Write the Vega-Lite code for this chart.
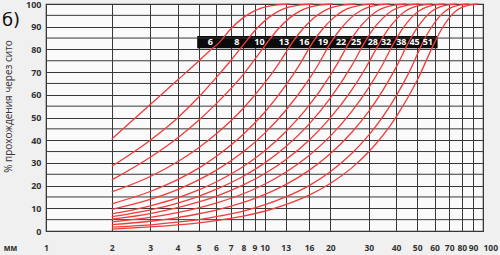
{
  "$schema": "https://vega.github.io/schema/vega-lite/v6.json",
  "width": 437,
  "height": 227,
  "autosize": {"type": "none"},
  "padding": {"left": 46, "top": 4, "right": 17, "bottom": 24},
  "background": "#f0f0f0",
  "config": {"view": {"fill": "#fafafa", "stroke": "#333333", "strokeWidth": 1.2}, "axis": {"labelOverlap": false}, "axisY": {"labelOverlap": false, "tickCount": 11}},
  "title": {"text": "б)", "anchor": "start", "frame": "group", "offset": 0, "dx": -44, "dy": 30, "fontSize": 18, "fontWeight": "normal", "font": "DejaVu Sans", "color": "#111"},
  "datasets": {
    "hgrid": [{"g": 5}, {"g": 15}, {"g": 25}, {"g": 35}, {"g": 45}, {"g": 55}, {"g": 65}, {"g": 75}, {"g": 85}, {"g": 95}],
    "band": [{"x1": 4.92, "x2": 62, "y1": 80.5, "y2": 85.9}],
    "labels": [
      {"lab": "6", "x": 5.65}, {"lab": "8", "x": 7.48}, {"lab": "10", "x": 9.48}, {"lab": "13", "x": 12.27},
      {"lab": "16", "x": 15.2}, {"lab": "19", "x": 18.5}, {"lab": "22", "x": 22.4}, {"lab": "25", "x": 26.3},
      {"lab": "28", "x": 31.3}, {"lab": "32", "x": 36.0}, {"lab": "38", "x": 42.3}, {"lab": "45", "x": 48.6}, {"lab": "51", "x": 55.9}
    ],
    "curves": [
      {"c": "6", "x": 2, "y": 40.5}, {"c": "6", "x": 3, "y": 55.7}, {"c": "6", "x": 4, "y": 66.5}, {"c": "6", "x": 5, "y": 74.9}, {"c": "6", "x": 5.6, "y": 79.3}, {"c": "6", "x": 6.2, "y": 83}, {"c": "6", "x": 7, "y": 89}, {"c": "6", "x": 8, "y": 94}, {"c": "6", "x": 9, "y": 97}, {"c": "6", "x": 10, "y": 98.6}, {"c": "6", "x": 11.2, "y": 99.5}, {"c": "6", "x": 13, "y": 100},
      {"c": "8", "x": 2, "y": 28.5}, {"c": "8", "x": 3, "y": 40}, {"c": "8", "x": 4, "y": 49.8}, {"c": "8", "x": 5, "y": 59}, {"c": "8", "x": 6, "y": 67.5}, {"c": "8", "x": 7, "y": 75}, {"c": "8", "x": 8.15, "y": 83}, {"c": "8", "x": 9.17, "y": 89}, {"c": "8", "x": 10.44, "y": 94}, {"c": "8", "x": 11.67, "y": 97}, {"c": "8", "x": 12.93, "y": 98.6}, {"c": "8", "x": 14.38, "y": 99.5}, {"c": "8", "x": 16.7, "y": 100},
      {"c": "10", "x": 2, "y": 22.5}, {"c": "10", "x": 3, "y": 32.5}, {"c": "10", "x": 4, "y": 41}, {"c": "10", "x": 5, "y": 48.8}, {"c": "10", "x": 6, "y": 56}, {"c": "10", "x": 8, "y": 69}, {"c": "10", "x": 9, "y": 75.5}, {"c": "10", "x": 10.3, "y": 83}, {"c": "10", "x": 11.55, "y": 89}, {"c": "10", "x": 13.08, "y": 94}, {"c": "10", "x": 14.58, "y": 97}, {"c": "10", "x": 16.1, "y": 98.6}, {"c": "10", "x": 17.86, "y": 99.5}, {"c": "10", "x": 20.6, "y": 100},
      {"c": "13", "x": 2, "y": 17.2}, {"c": "13", "x": 3, "y": 24.0}, {"c": "13", "x": 4, "y": 30.5}, {"c": "13", "x": 5, "y": 36.7}, {"c": "13", "x": 6, "y": 42.7}, {"c": "13", "x": 8, "y": 54.1}, {"c": "13", "x": 10, "y": 65.1}, {"c": "13", "x": 11.5, "y": 73.1}, {"c": "13", "x": 13.4, "y": 83}, {"c": "13", "x": 14.97, "y": 89}, {"c": "13", "x": 16.9, "y": 94}, {"c": "13", "x": 18.75, "y": 97}, {"c": "13", "x": 20.6, "y": 98.6}, {"c": "13", "x": 22.8, "y": 99.5}, {"c": "13", "x": 26.2, "y": 100},
      {"c": "16", "x": 2, "y": 12}, {"c": "16", "x": 3, "y": 17.4}, {"c": "16", "x": 4, "y": 22.6}, {"c": "16", "x": 5, "y": 27.7}, {"c": "16", "x": 6, "y": 32.8}, {"c": "16", "x": 8, "y": 42.6}, {"c": "16", "x": 10, "y": 52.2}, {"c": "16", "x": 12.5, "y": 64.1}, {"c": "16", "x": 14.5, "y": 73.4}, {"c": "16", "x": 16.6, "y": 83}, {"c": "16", "x": 18.46, "y": 89}, {"c": "16", "x": 20.75, "y": 94}, {"c": "16", "x": 22.9, "y": 97}, {"c": "16", "x": 25.2, "y": 98.6}, {"c": "16", "x": 27.7, "y": 99.5}, {"c": "16", "x": 31.7, "y": 100},
      {"c": "19", "x": 2, "y": 9.5}, {"c": "19", "x": 3, "y": 13.9}, {"c": "19", "x": 4, "y": 18.2}, {"c": "19", "x": 5, "y": 22.5}, {"c": "19", "x": 6, "y": 26.7}, {"c": "19", "x": 8, "y": 34.9}, {"c": "19", "x": 10, "y": 43.0}, {"c": "19", "x": 12.5, "y": 53.1}, {"c": "19", "x": 16, "y": 66.9}, {"c": "19", "x": 17.5, "y": 72.8}, {"c": "19", "x": 20.1, "y": 83}, {"c": "19", "x": 22.3, "y": 89}, {"c": "19", "x": 24.9, "y": 94}, {"c": "19", "x": 27.5, "y": 97}, {"c": "19", "x": 30, "y": 98.6}, {"c": "19", "x": 33, "y": 99.5}, {"c": "19", "x": 37.5, "y": 100},
      {"c": "22", "x": 2, "y": 7.5}, {"c": "22", "x": 3, "y": 11.1}, {"c": "22", "x": 4, "y": 14.6}, {"c": "22", "x": 5, "y": 18.1}, {"c": "22", "x": 6, "y": 21.6}, {"c": "22", "x": 8, "y": 28.4}, {"c": "22", "x": 10, "y": 35.2}, {"c": "22", "x": 12.5, "y": 43.7}, {"c": "22", "x": 16, "y": 55.3}, {"c": "22", "x": 20, "y": 68.6}, {"c": "22", "x": 21.5, "y": 73.5}, {"c": "22", "x": 24.4, "y": 83}, {"c": "22", "x": 26.9, "y": 89}, {"c": "22", "x": 30, "y": 94}, {"c": "22", "x": 32.9, "y": 97}, {"c": "22", "x": 35.9, "y": 98.6}, {"c": "22", "x": 39.3, "y": 99.5}, {"c": "22", "x": 44.5, "y": 100},
      {"c": "25", "x": 2, "y": 6.3}, {"c": "25", "x": 3, "y": 9.3}, {"c": "25", "x": 4, "y": 12.3}, {"c": "25", "x": 5, "y": 15.3}, {"c": "25", "x": 6, "y": 18.3}, {"c": "25", "x": 8, "y": 24.1}, {"c": "25", "x": 10, "y": 29.9}, {"c": "25", "x": 12.5, "y": 37.1}, {"c": "25", "x": 16, "y": 47.1}, {"c": "25", "x": 20, "y": 58.5}, {"c": "25", "x": 25, "y": 72.6}, {"c": "25", "x": 28.7, "y": 83}, {"c": "25", "x": 31.5, "y": 89}, {"c": "25", "x": 35, "y": 94}, {"c": "25", "x": 38.3, "y": 97}, {"c": "25", "x": 41.6, "y": 98.6}, {"c": "25", "x": 45.3, "y": 99.5}, {"c": "25", "x": 51.1, "y": 100},
      {"c": "28", "x": 2, "y": 5.2}, {"c": "28", "x": 3, "y": 7.7}, {"c": "28", "x": 4, "y": 10.3}, {"c": "28", "x": 5, "y": 12.8}, {"c": "28", "x": 6, "y": 15.3}, {"c": "28", "x": 8, "y": 20.3}, {"c": "28", "x": 10, "y": 25.2}, {"c": "28", "x": 12.5, "y": 31.4}, {"c": "28", "x": 16, "y": 40.0}, {"c": "28", "x": 20, "y": 49.8}, {"c": "28", "x": 25, "y": 62.0}, {"c": "28", "x": 29, "y": 71.7}, {"c": "28", "x": 33.7, "y": 83}, {"c": "28", "x": 36.9, "y": 89}, {"c": "28", "x": 40.8, "y": 94}, {"c": "28", "x": 44.4, "y": 97}, {"c": "28", "x": 48.1, "y": 98.6}, {"c": "28", "x": 52.3, "y": 99.5}, {"c": "28", "x": 58.6, "y": 100},
      {"c": "32", "x": 2, "y": 4.0}, {"c": "32", "x": 3, "y": 6.0}, {"c": "32", "x": 4, "y": 8.1}, {"c": "32", "x": 5, "y": 10.2}, {"c": "32", "x": 6, "y": 12.3}, {"c": "32", "x": 8, "y": 16.4}, {"c": "32", "x": 10, "y": 20.6}, {"c": "32", "x": 12.5, "y": 25.9}, {"c": "32", "x": 16, "y": 33.3}, {"c": "32", "x": 20, "y": 41.8}, {"c": "32", "x": 25, "y": 52.5}, {"c": "32", "x": 30, "y": 63.2}, {"c": "32", "x": 34, "y": 71.8}, {"c": "32", "x": 39.2, "y": 83}, {"c": "32", "x": 42.8, "y": 89}, {"c": "32", "x": 47, "y": 94}, {"c": "32", "x": 51.1, "y": 97}, {"c": "32", "x": 55.1, "y": 98.6}, {"c": "32", "x": 59.6, "y": 99.5}, {"c": "32", "x": 66.6, "y": 100},
      {"c": "38", "x": 2, "y": 2.8}, {"c": "38", "x": 3, "y": 4.3}, {"c": "38", "x": 4, "y": 5.9}, {"c": "38", "x": 5, "y": 7.6}, {"c": "38", "x": 6, "y": 9.2}, {"c": "38", "x": 8, "y": 12.6}, {"c": "38", "x": 10, "y": 16.0}, {"c": "38", "x": 12.5, "y": 20.4}, {"c": "38", "x": 16, "y": 26.7}, {"c": "38", "x": 20, "y": 34.0}, {"c": "38", "x": 25, "y": 43.3}, {"c": "38", "x": 30, "y": 52.7}, {"c": "38", "x": 40, "y": 72.1}, {"c": "38", "x": 45.6, "y": 83}, {"c": "38", "x": 49.6, "y": 89}, {"c": "38", "x": 54.3, "y": 94}, {"c": "38", "x": 58.7, "y": 97}, {"c": "38", "x": 63.2, "y": 98.6}, {"c": "38", "x": 68.1, "y": 99.5}, {"c": "38", "x": 75.7, "y": 100},
      {"c": "45", "x": 2, "y": 1.7}, {"c": "45", "x": 3, "y": 2.7}, {"c": "45", "x": 4, "y": 3.9}, {"c": "45", "x": 5, "y": 5.0}, {"c": "45", "x": 6, "y": 6.3}, {"c": "45", "x": 8, "y": 8.8}, {"c": "45", "x": 10, "y": 11.5}, {"c": "45", "x": 12.5, "y": 15.0}, {"c": "45", "x": 16, "y": 20.0}, {"c": "45", "x": 20, "y": 26.1}, {"c": "45", "x": 25, "y": 34.0}, {"c": "45", "x": 30, "y": 42.2}, {"c": "45", "x": 40, "y": 59.4}, {"c": "45", "x": 46, "y": 70.1}, {"c": "45", "x": 53, "y": 83}, {"c": "45", "x": 57.4, "y": 89}, {"c": "45", "x": 62.6, "y": 94}, {"c": "45", "x": 67.5, "y": 97}, {"c": "45", "x": 72.3, "y": 98.6}, {"c": "45", "x": 77.8, "y": 99.5}, {"c": "45", "x": 86, "y": 100},
      {"c": "51", "x": 2, "y": 0.8}, {"c": "51", "x": 3, "y": 1.8}, {"c": "51", "x": 4, "y": 2.7}, {"c": "51", "x": 5, "y": 3.6}, {"c": "51", "x": 6, "y": 4.6}, {"c": "51", "x": 8, "y": 6.6}, {"c": "51", "x": 10, "y": 8.7}, {"c": "51", "x": 12.5, "y": 11.6}, {"c": "51", "x": 16, "y": 15.8}, {"c": "51", "x": 20, "y": 20.9}, {"c": "51", "x": 25, "y": 27.7}, {"c": "51", "x": 30, "y": 34.9}, {"c": "51", "x": 40, "y": 50.2}, {"c": "51", "x": 50, "y": 66.4}, {"c": "51", "x": 60, "y": 83}, {"c": "51", "x": 64.7, "y": 89}, {"c": "51", "x": 70.2, "y": 94}, {"c": "51", "x": 75.4, "y": 97}, {"c": "51", "x": 80.5, "y": 98.6}, {"c": "51", "x": 86.1, "y": 99.5}, {"c": "51", "x": 95, "y": 100}
    ]
  },
  "layer": [
    {
      "data": {"name": "band"},
      "mark": {"type": "rect", "color": "#0b0b0b"},
      "encoding": {
        "x": {"field": "x1", "type": "quantitative", "scale": {"type": "log", "domain": [1, 100], "nice": false},
          "axis": {"values": [1, 2, 3, 4, 5, 6, 7, 8, 9, 10, 12.5, 16, 20, 30, 40, 50, 60, 70, 80, 90, 100],
            "labelExpr": "datum.value == 12.5 ? '13' : format(datum.value, 'd')",
            "grid": true, "gridColor": "#383838", "gridWidth": 1, "ticks": false, "domain": false,
            "labelFont": "Open Sans", "labelFontWeight": "bold", "labelFontSize": 8.5, "labelColor": "#333",
            "labelAlign": {"condition": {"test": "datum.value == 100", "value": "left"}, "value": "center"},
            "labelPadding": 12, "labelOverlap": false, "labelBound": false, "labelFlush": false,
            "title": "мм", "titleX": -36, "titleY": 17, "titleAlign": "center", "titleBaseline": "middle",
            "titleFont": "Open Sans", "titleFontSize": 8, "titleFontWeight": "bold", "titleColor": "#333"}},
        "x2": {"field": "x2"},
        "y": {"field": "y1", "type": "quantitative", "scale": {"domain": [0, 100], "nice": false}},
        "y2": {"field": "y2"}
      }
    },
    {
      "data": {"name": "hgrid"},
      "mark": {"type": "rule", "color": "#383838", "strokeWidth": 1},
      "encoding": {
        "y": {"field": "g", "type": "quantitative"}
      }
    },
    {
      "data": {"name": "curves"},
      "mark": {"type": "line", "interpolate": "monotone", "color": "#f23b3b", "strokeWidth": 1.3},
      "encoding": {
        "x": {"field": "x", "type": "quantitative"},
        "y": {"field": "y", "type": "quantitative",
          "axis": {"values": [0, 10, 20, 30, 40, 50, 60, 70, 80, 90, 100], "tickCount": 11,
            "grid": true, "gridColor": "#383838", "gridWidth": 1, "ticks": false, "domain": false,
            "labelFont": "Open Sans", "labelFontWeight": "bold", "labelFontSize": 9, "labelColor": "#333",
            "labelPadding": 5, "labelOverlap": false, "labelBound": false, "labelFlush": false,
            "title": "% прохождения через сито", "titleX": -38, "titleY": 102, "titleAngle": -90,
            "titleAlign": "center", "titleBaseline": "middle",
            "titleFont": "Open Sans", "titleFontSize": 10, "titleFontWeight": "normal", "titleColor": "#333"}},
        "detail": {"field": "c"},
        "order": {"field": "x"}
      }
    },
    {
      "data": {"name": "labels"},
      "mark": {"type": "text", "color": "#ffffff", "font": "Open Sans", "fontWeight": "bold", "fontSize": 9, "baseline": "middle", "align": "center"},
      "encoding": {
        "x": {"field": "x", "type": "quantitative"},
        "y": {"datum": 83.2, "type": "quantitative"},
        "text": {"field": "lab"}
      }
    }
  ]
}
